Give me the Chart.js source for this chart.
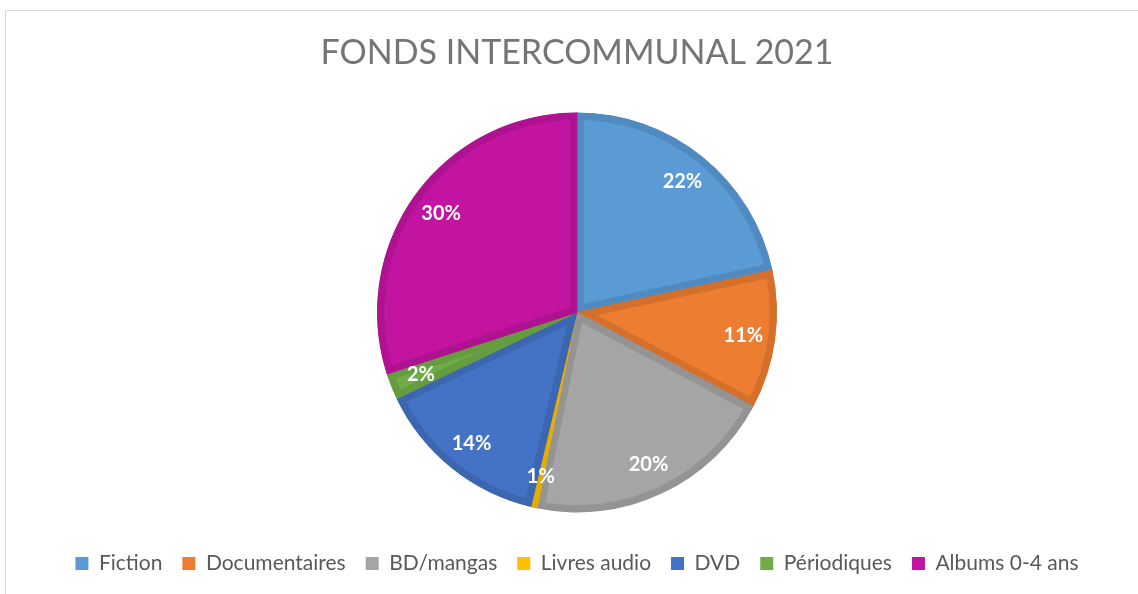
<!DOCTYPE html>
<html>
<head>
<meta charset="utf-8">
<script src="https://cdn.jsdelivr.net/npm/chart.js@4.4.0/dist/chart.umd.min.js"></script>
<style>
  html, body { margin: 0; padding: 0; background: #fff; overflow: hidden; }
  #frame { position: absolute; left: 5px; top: 10px; width: 1200px; height: 700px;
           border-left: 1px solid #d9d9d9; border-top: 1px solid #d9d9d9; }
  #wrap { position: absolute; left: 0; top: 0; width: 1138px; height: 594px; }
</style>
</head>
<body>
<div id="frame"></div>
<div id="wrap"><canvas id="pieChart"></canvas></div>
<script>
// data
var categories = ["Fiction", "Documentaires", "BD/mangas", "Livres audio", "DVD", "Périodiques", "Albums 0-4 ans"];
var shares = [21.6, 11.2, 20.4, 0.5, 14.2, 2.1, 30.0];
var fillColors = ["#5B9BD5", "#ED7D31", "#A5A5A5", "#FFC000", "#4472C4", "#70AD47", "#C214A0"];
var edgeColors = ["#4F8AC1", "#D5702C", "#949494", "#E5AD00", "#3D66B0", "#659C40", "#AE1290"];

var fontName = "Lato, 'Open Sans', sans-serif";

// white percentage labels inside the slices
var sliceLabels = {
    id: 'sliceLabels',
    afterDatasetsDraw: function (chart) {
        var meta = chart.getDatasetMeta(0);
        var values = chart.data.datasets[0].data;
        var total = values.reduce(function (a, b) { return a + b; }, 0);
        var ctx = chart.ctx;
        ctx.save();
        ctx.fillStyle = "#ffffff";
        ctx.font = "bold 20px " + fontName;
        ctx.textAlign = "center";
        ctx.textBaseline = "middle";
        meta.data.forEach(function (arc, i) {
            var p = arc.getProps(['x', 'y', 'startAngle', 'endAngle', 'outerRadius'], true);
            var mid = (p.startAngle + p.endAngle) / 2;
            var r = p.outerRadius * 0.84;
            var txt = Math.max(1, Math.round(values[i] / total * 100)) + "%";
            ctx.fillText(txt, p.x + Math.cos(mid) * r, p.y + Math.sin(mid) * r);
        });
        ctx.restore();
    }
};

document.addEventListener("DOMContentLoaded", function () {
    var ctx = document.getElementById("pieChart");

    new Chart(ctx.getContext("2d"), {
        type: "pie",
        data: {
            labels: categories,
            datasets: [{
                data: shares,
                backgroundColor: fillColors,
                borderColor: edgeColors,
                borderWidth: 7,
                borderAlign: 'inner',
                radius: 200
            }]
        },
        options: {
            responsive: true,
            maintainAspectRatio: false,
            animation: false,
            layout: { padding: { left: 16, right: 0, top: 0, bottom: 10 } },
            plugins: {
                title: {
                    display: true,
                    text: "FONDS INTERCOMMUNAL 2021",
                    color: "#757575",
                    font: { family: fontName, size: 34, weight: 'normal' },
                    padding: { top: 33, bottom: 18 }
                },
                legend: {
                    position: 'bottom',
                    labels: {
                        color: "#595959",
                        font: { family: fontName, size: 21 },
                        boxWidth: 13,
                        boxHeight: 13,
                        padding: 20,
                        generateLabels: function (chart) {
                            var items = Chart.overrides.pie.plugins.legend.labels.generateLabels(chart);
                            items.forEach(function (it, i) {
                                it.lineWidth = 0;
                                it.fillStyle = fillColors[i];
                                it.strokeStyle = fillColors[i];
                            });
                            return items;
                        }
                    }
                },
                tooltip: { enabled: false }
            }
        },
        plugins: [sliceLabels]
    });
});
</script>
</body>
</html>
